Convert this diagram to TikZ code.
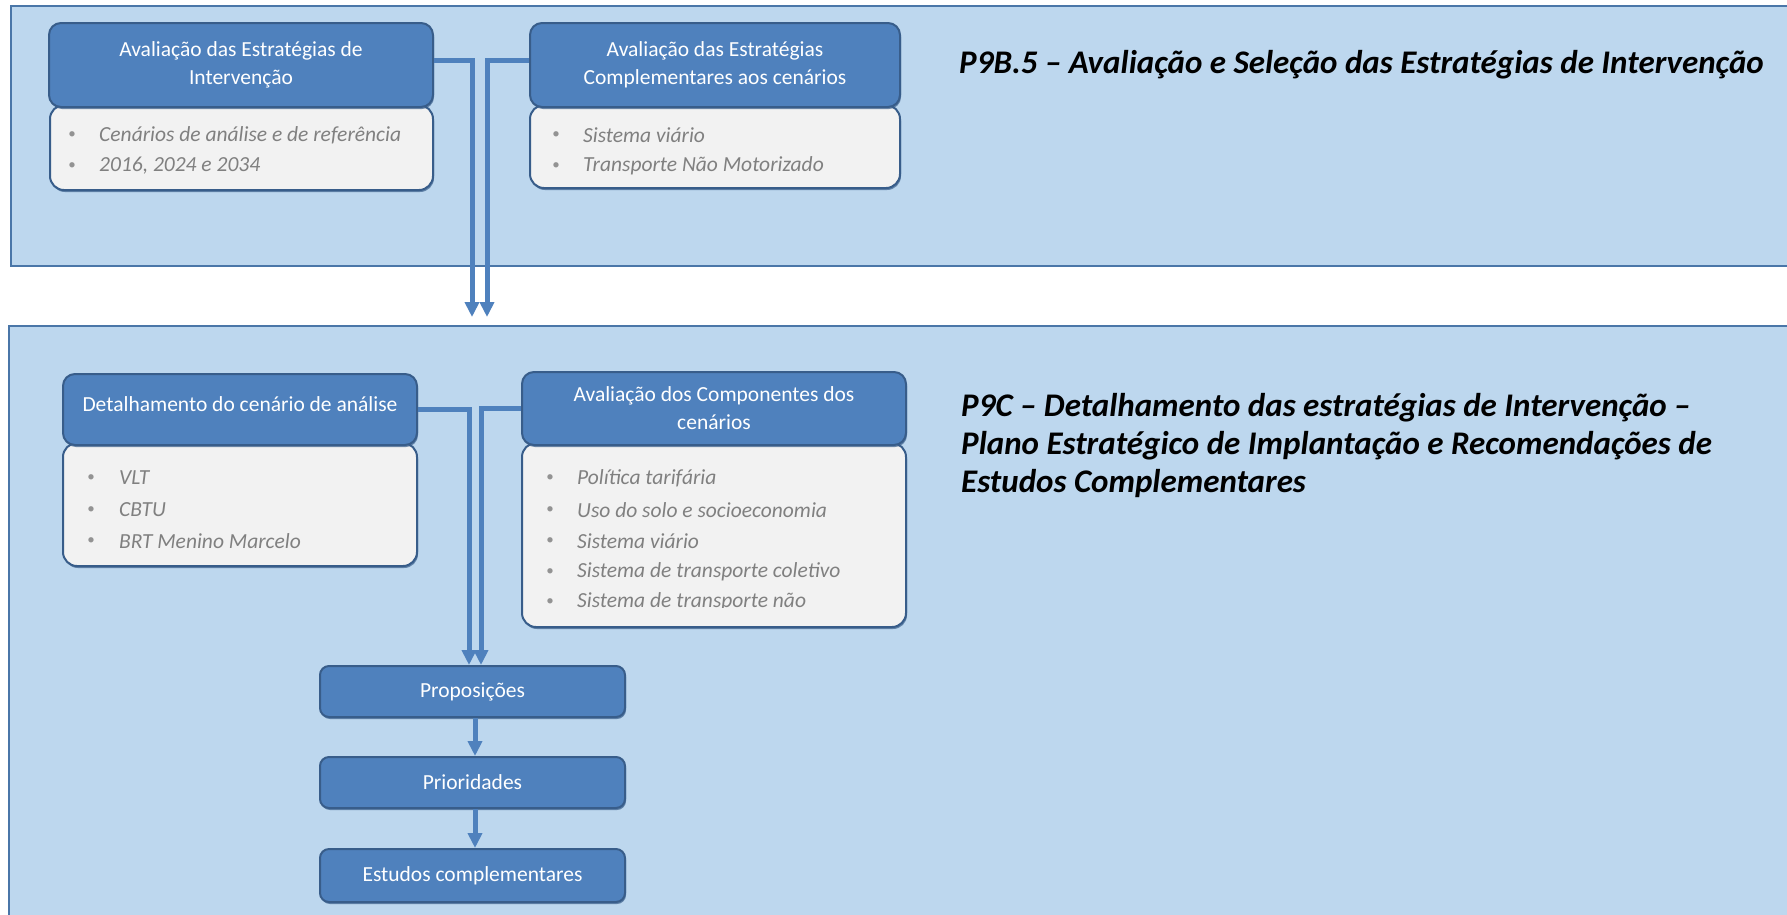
\documentclass[tikz,border=0pt]{standalone}
\usepackage{fontspec}
\setmainfont{Carlito}
\usetikzlibrary{arrows.meta,shadows}
\definecolor{panelfill}{HTML}{BDD7EE}
\definecolor{panelline}{HTML}{4A76A8}
\definecolor{hdrfill}{HTML}{4F81BD}
\definecolor{hdrline}{HTML}{385D8A}
\definecolor{bodyfill}{HTML}{F2F2F2}
\definecolor{itemgray}{HTML}{808080}
\definecolor{connblue}{HTML}{4F81BD}
\begin{document}
\begin{tikzpicture}[x=1pt,y=-1pt,
  panel/.style={draw=panelline,line width=2pt,fill=panelfill},
  hdr/.style={draw=hdrline,line width=2pt,fill=hdrfill,rounded corners=12pt,inner sep=0pt,
    text=white,align=center,font=\fontsize{21.5}{28}\selectfont,
    drop shadow={shadow xshift=1pt,shadow yshift=-2pt,fill=hdrline,opacity=0.7}},
  bodybox/.style={draw=hdrline,line width=2pt,fill=bodyfill,rounded corners=14pt,inner sep=0pt,
    drop shadow={shadow xshift=1pt,shadow yshift=-2pt,fill=hdrline,opacity=0.7}},
  bul/.style={text=itemgray!85,font=\fontsize{15}{15}\selectfont,inner sep=0pt},
  itm/.style={anchor=west,text=itemgray,font=\fontsize{21.5}{21.5}\selectfont\itshape,inner sep=0pt},
  link/.style={draw=connblue,line width=5pt},
  arr/.style={link,-{Triangle[width=14pt,length=15pt]}},
  ttl/.style={anchor=west,font=\fontsize{33}{38}\selectfont\bfseries\itshape,align=left,inner sep=0pt}
]
\fill[white] (0,0) rectangle (1787,914);
\useasboundingbox (0,0) rectangle (1787,914);
\clip (0,0) rectangle (1787,914);

% panels
\draw[panel] (11,6) rectangle (1800,266);
\draw[panel] (9,326) rectangle (1800,930);

% titles
\node[ttl] (t1) at (959,65) {P9B.5 – Avaliação e Seleção das Estratégias de Intervenção};
\node[ttl] (t2) at (961,446) {P9C – Detalhamento das estratégias de Intervenção –\\Plano Estratégico de Implantação e Recomendações de\\Estudos Complementares};

% top-left group
\node[bodybox,minimum width=383pt,minimum height=85pt] (tlb) at (241.5,147.5) {};
\node[hdr,minimum width=384pt,minimum height=84pt] (tlh) at (241,65) {Avaliação das Estratégias de\\Intervenção};
\node[bul] (tlb1d) at (72,135) {•};
\node[itm] (tlb1) at (99,135) {Cenários de análise e de referência};
\node[bul] (tlb2d) at (72,166) {•};
\node[itm] (tlb2) at (99,166) {2016, 2024 e 2034};

% top-right group
\node[bodybox,minimum width=370pt,minimum height=83pt] (trb) at (715,146.5) {};
\node[hdr,minimum width=370pt,minimum height=84pt] (trh) at (715,65) {Avaliação das Estratégias\\Complementares aos cenários};
\node[bul] (trb1d) at (556,135) {•};
\node[itm] (trb1) at (583,135) {Sistema viário};
\node[bul] (trb2d) at (556,166) {•};
\node[itm] (trb2) at (583,166) {Transporte Não Motorizado};

% bottom-left group
\node[bodybox,minimum width=354pt,minimum height=123pt] (blb) at (240,504.5) {};
\node[hdr,minimum width=354pt,minimum height=71pt] (blh) at (240,409.5) {\raisebox{10pt}{Detalhamento do cenário de análise}};
\node[bul] (blb1d) at (91,478) {•};
\node[itm] (blb1) at (119,478) {VLT};
\node[bul] (blb2d) at (91,510) {•};
\node[itm] (blb2) at (119,510) {CBTU};
\node[bul] (blb3d) at (91,541) {•};
\node[itm] (blb3) at (119,541) {BRT Menino Marcelo};

% bottom-right group
\node[bodybox,minimum width=384pt,minimum height=184pt] (brb) at (714,535) {};
\node[hdr,minimum width=384pt,minimum height=73pt] (brh) at (714,408.5) {Avaliação dos Componentes dos\\cenários};
\node[bul] (brb1d) at (550,478) {•};
\node[itm] (brb1) at (577,478) {Política tarifária};
\node[bul] (brb2d) at (550,510) {•};
\node[itm] (brb2) at (577,510) {Uso do solo e socioeconomia};
\node[bul] (brb3d) at (550,541) {•};
\node[itm] (brb3) at (577,541) {Sistema viário};
\node[bul] (brb4d) at (550,572) {•};
\node[itm] (brb4) at (577,572) {Sistema de transporte coletivo};
\begin{scope}
\clip (530,588) rectangle (900,607);
\node[bul] (brb5d) at (550,602) {•};
\node[itm] (brb5) at (577,602) {Sistema de transporte não};
\end{scope}

% flow boxes
\node[hdr,rounded corners=9pt,minimum width=305pt,minimum height=51pt] (prop) at (472.5,691.5) {Proposições};
\node[hdr,rounded corners=9pt,minimum width=305pt,minimum height=51pt] (prio) at (472.5,782.5) {Prioridades};
\node[hdr,rounded corners=9pt,minimum width=305pt,minimum height=53pt] (est) at (472.5,875.5) {Estudos complementares};

% connectors
\coordinate (a1) at (472,317);
\coordinate (a2) at (487,317);
\draw[arr] ([yshift=5pt]tlh.east) -| (a1);
\draw[arr] ([yshift=5pt]trh.west) -| (a2);
\draw[arr] (blh.east) -| ([xshift=-3.5pt]prop.north);
\draw[arr] (brh.west) -| ([xshift=8.5pt]prop.north);
\draw[arr] ([xshift=2.5pt]prop.south) -- ([xshift=2.5pt]prio.north);
\draw[arr] ([xshift=2.5pt]prio.south) -- ([xshift=2.5pt]est.north);
\end{tikzpicture}
\end{document}
